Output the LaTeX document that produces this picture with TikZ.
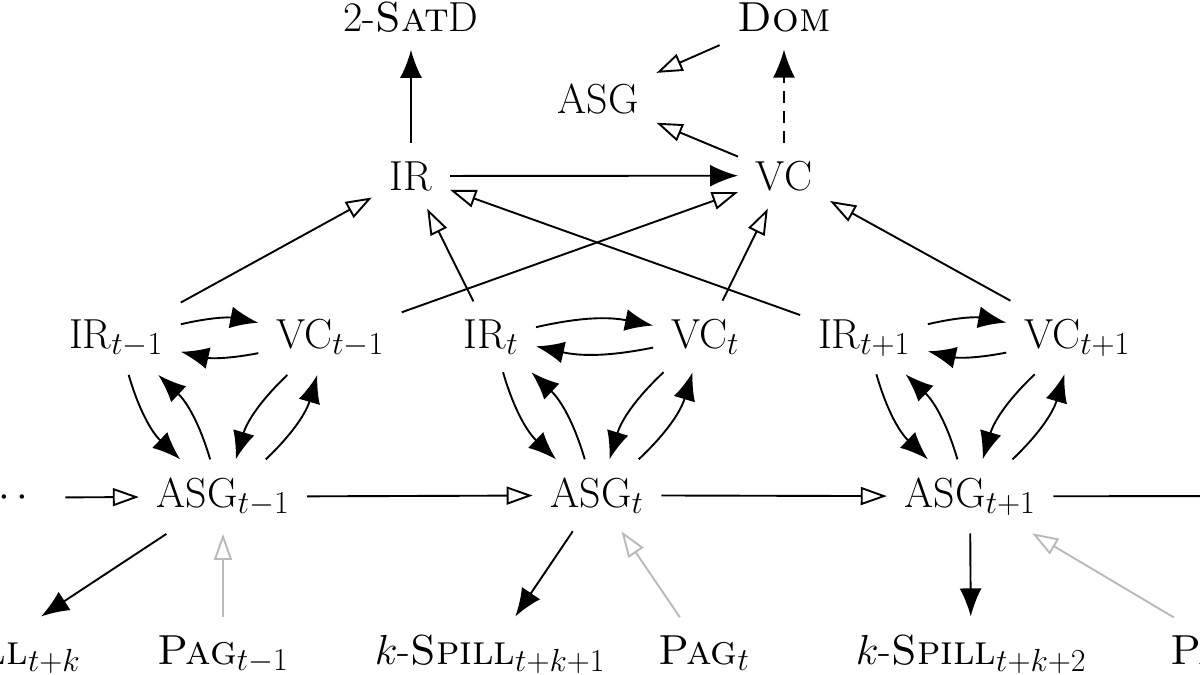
\RequirePackage{fix-cm}
\documentclass[tikz,border=0pt]{standalone}
\usetikzlibrary{arrows.meta}
\DeclareMathSizes{42}{42}{32}{24}
\begin{document}
\begin{tikzpicture}[x=1pt,y=-1pt,line width=1.9pt,
  lbl/.style={font=\fontsize{42}{50}\selectfont, inner sep=17pt, anchor=base},
  fa/.style={-{Latex[length=28pt,width=22pt]}},
  oa/.style={-{Triangle[open,length=26pt,width=18pt]}},
  ga/.style={oa, draw=gray!55},
  dsh/.style={dash pattern=on 12pt off 8pt}]
\useasboundingbox (0,0) rectangle (1200,675);
\clip (0,0) rectangle (1200,675);
% top
\node[lbl] (sat) at (411,31) {2-\textsc{Sat}D};
\node[lbl] (dom) at (784,31) {\textsc{Dom}};
\node[lbl] (asg) at (598,113) {ASG};
\node[lbl] (ir) at (411,190) {IR};
\node[lbl] (vc) at (784,190) {VC};
% middle
\node[lbl] (irm) at (116,348) {IR$_{t-1}$};
\node[lbl] (vcm) at (330,348) {VC$_{t-1}$};
\node[lbl] (irz) at (491,348) {IR$_{t}$};
\node[lbl] (vcz) at (705,348) {VC$_{t}$};
\node[lbl] (irp) at (864,348) {IR$_{t+1}$};
\node[lbl] (vcp) at (1077,348) {VC$_{t+1}$};
% ASG row
\node[lbl] (dots) at (4,507) {$\cdots$};
\node[lbl] (asgm) at (223,507) {ASG$_{t-1}$};
\node[lbl] (asgz) at (597,507) {ASG$_{t}$};
\node[lbl] (asgp) at (970,507) {ASG$_{t+1}$};
\coordinate (nxt) at (1320,496);
% bottom
\node[lbl] (spm) at (-16,664) {$k$-\textsc{Spill}$_{t+k}$};
\node[lbl] (pagm) at (223,664) {\textsc{Pag}$_{t-1}$};
\node[lbl] (spz) at (490,664) {$k$-\textsc{Spill}$_{t+k+1}$};
\node[lbl] (pagz) at (704,664) {\textsc{Pag}$_{t}$};
\node[lbl] (spp) at (971,664) {$k$-\textsc{Spill}$_{t+k+2}$};
\node[lbl] (pagp) at (1235,664) {\textsc{Pag}$_{t+1}$};
% top edges
\draw[fa] (ir) -- (sat);
\draw[fa] (ir) -- (vc);
\draw[fa,dsh] (vc) -- (dom);
\draw[oa] (dom) -- (asg);
\draw[oa] (vc) -- (asg);
\draw[oa] (irm) -- (ir);
\draw[oa] (vcm) -- (vc);
\draw[oa] (irz) -- (ir);
\draw[oa] (vcz) -- (vc);
\draw[oa] (irp) -- (ir);
\draw[oa] (vcp) -- (vc);
% clusters
\foreach \i/\v/\a in {irm/vcm/asgm, irz/vcz/asgz, irp/vcp/asgp}{
  \draw[fa] (\i) to[bend left=12] (\v);
  \draw[fa] (\v) to[bend left=12] (\i);
  \draw[fa] (\i) to[bend right=15] (\a);
  \draw[fa] (\a) to[bend right=15] (\i);
  \draw[fa] (\v) to[bend right=15] (\a);
  \draw[fa] (\a) to[bend right=15] (\v);
}
% ASG row
\draw[oa,shorten <=19pt] (dots) -- (asgm);
\draw[oa] (asgm) -- (asgz);
\draw[oa] (asgz) -- (asgp);
\draw[oa] (asgp) -- (nxt);
% bottom edges
\draw[fa] (asgm) -- (spm);
\draw[ga] (pagm) -- (asgm);
\draw[fa] (asgz) -- (spz);
\draw[ga] (pagz) -- (asgz);
\draw[fa] (asgp) -- (spp);
\draw[ga] (pagp) -- (asgp);
\end{tikzpicture}
\end{document}
